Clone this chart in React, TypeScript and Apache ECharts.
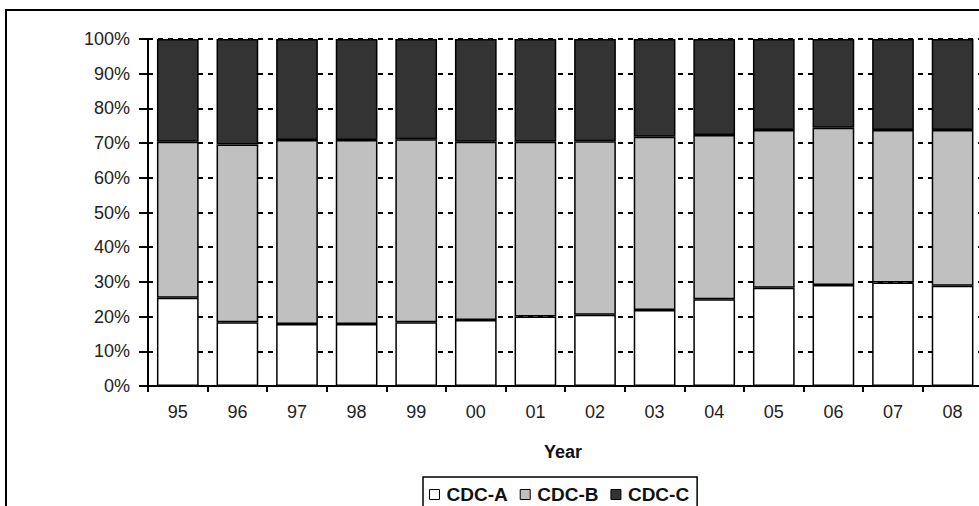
import React, { useEffect, useRef } from "react";
import * as echarts from "echarts";

const years = ["95", "96", "97", "98", "99", "00", "01", "02", "03", "04", "05", "06", "07", "08"];
const cdcA = [25.4, 18.4, 17.9, 17.9, 18.4, 19.0, 20.0, 20.5, 21.9, 25.0, 28.3, 29.1, 29.8, 28.9];
const cdcB = [45.0, 51.2, 53.0, 53.0, 52.7, 51.4, 50.4, 50.0, 49.9, 47.3, 45.5, 45.3, 44.0, 44.9];
const cdcC = [29.6, 30.4, 29.1, 29.1, 28.9, 29.6, 29.6, 29.5, 28.2, 27.7, 26.2, 25.6, 26.2, 26.2];
const seriesNames = ["CDC-A", "CDC-B", "CDC-C"];
const seriesColors = ["#ffffff", "#c0c0c0", "#333333"];

const FONT = '"Liberation Sans", Arial, Helvetica, sans-serif';

export default function App() {
  const ref = useRef<HTMLDivElement>(null);

  useEffect(() => {
    if (!ref.current) return;
    const chart = echarts.init(ref.current, null, { renderer: "svg" });
    const values = [cdcA, cdcB, cdcC];
    const black = { color: "#000", width: 2 };
    chart.setOption({
      animation: false,
      backgroundColor: "#fff",
      grid: { left: 148, top: 39, width: 834.4, height: 347, containLabel: false },
      xAxis: {
        type: "category",
        data: years,
        axisLine: { show: true, lineStyle: black },
        axisTick: { show: true, length: 6, lineStyle: black },
        axisLabel: { fontSize: 18, color: "#222", margin: 17, fontFamily: FONT },
        splitLine: { show: false },
      },
      yAxis: [
        {
          type: "value",
          min: 0,
          max: 100,
          interval: 10,
          axisLine: { show: true, lineStyle: black },
          axisTick: { show: true, length: 9, lineStyle: black },
          axisLabel: { formatter: "{value}%", fontSize: 18, color: "#222", margin: 18, fontFamily: FONT },
          splitLine: { show: true, lineStyle: { color: "#000", width: 2, type: [5, 5] } },
        },
        {
          type: "value",
          min: 0,
          max: 100,
          interval: 10,
          position: "left",
          axisLine: { show: false },
          axisTick: { show: true, inside: true, length: 5, lineStyle: black },
          axisLabel: { show: false },
          splitLine: { show: false },
        },
      ],
      legend: {
        data: seriesNames,
        left: 423,
        top: 477,
        orient: "horizontal",
        icon: "rect",
        itemWidth: 10,
        itemHeight: 10,
        itemGap: 12,
        padding: [8, 8, 8, 6],
        borderColor: "#000",
        borderWidth: 1.5,
        textStyle: { fontSize: 19, fontWeight: "bold", color: "#111", fontFamily: FONT, padding: [0, 0, 0, 2] },
        itemStyle: { borderColor: "#000", borderWidth: 1 },
      },
      graphic: [
        {
          type: "rect",
          shape: { x: 6, y: 10, width: 1200, height: 700 },
          style: { fill: "none", stroke: "#000", lineWidth: 2 },
          silent: true,
        },
        {
          type: "text",
          x: 563,
          y: 452,
          style: {
            text: "Year",
            fontSize: 18,
            fontWeight: "bold",
            fontFamily: FONT,
            fill: "#111",
            textAlign: "center",
            textVerticalAlign: "middle",
          },
        },
      ],
      series: seriesNames.map((name, i) => ({
        name,
        type: "bar",
        stack: "total",
        barWidth: "70%",
        data: values[i],
        itemStyle: { color: seriesColors[i], borderColor: "#000", borderWidth: 1.5 },
      })),
    });
    return () => chart.dispose();
  }, []);

  return (
    <div
      style={{
        position: "fixed",
        left: 0,
        top: 0,
        width: 979,
        height: 506,
        overflow: "hidden",
        background: "#fff",
      }}
    >
      <div ref={ref} style={{ width: 1010, height: 540 }} />
    </div>
  );
}
